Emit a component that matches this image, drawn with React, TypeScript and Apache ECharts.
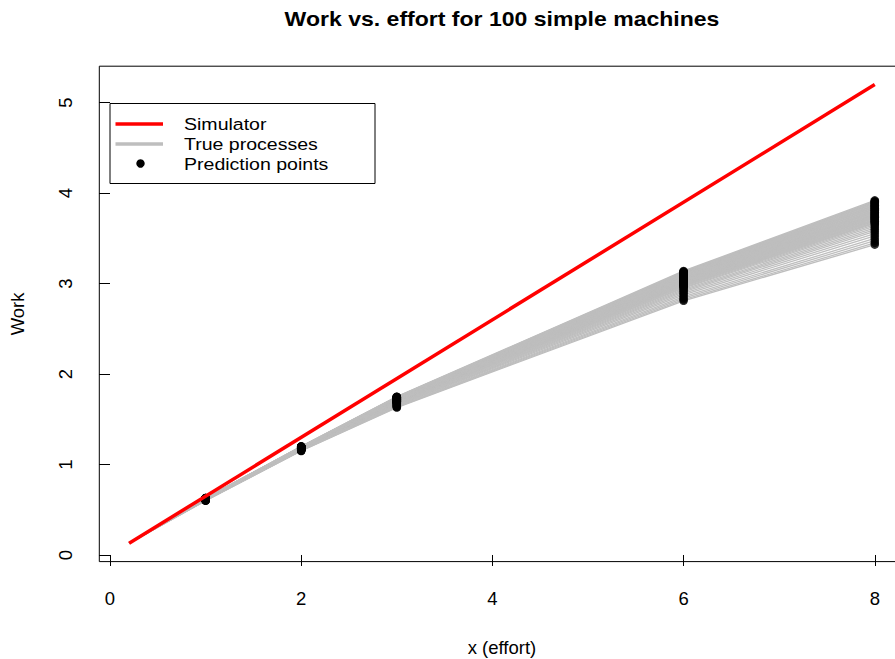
import React, { useEffect, useRef } from "react";
import * as echarts from "echarts";

// ---- data ----
const simulatorX = [0.2, 8];
const simulatorY = [0.13, 5.2];

const trueStart = [0.2, 0.13];
const processX = [1, 2, 3, 6, 8];

const trueAt1 = [
  0.600, 0.601, 0.603, 0.604, 0.606, 0.608, 0.609, 0.610, 0.611, 0.613,
  0.614, 0.614, 0.615, 0.615, 0.616, 0.616, 0.617, 0.617, 0.617, 0.618,
  0.618, 0.619, 0.619, 0.620, 0.620, 0.620, 0.621, 0.621, 0.622, 0.622,
  0.622, 0.623, 0.623, 0.623, 0.624, 0.624, 0.625, 0.625, 0.626, 0.626,
  0.626, 0.627, 0.627, 0.628, 0.628, 0.628, 0.629, 0.629, 0.629, 0.630,
];
const trueAt2 = [
  1.150, 1.152, 1.155, 1.157, 1.160, 1.163, 1.165, 1.167, 1.169, 1.171,
  1.173, 1.174, 1.175, 1.176, 1.177, 1.177, 1.178, 1.179, 1.179, 1.180,
  1.181, 1.181, 1.182, 1.183, 1.183, 1.184, 1.185, 1.185, 1.186, 1.187,
  1.187, 1.188, 1.189, 1.189, 1.190, 1.191, 1.191, 1.192, 1.193, 1.193,
  1.194, 1.195, 1.195, 1.196, 1.197, 1.197, 1.198, 1.199, 1.199, 1.200,
];
const trueAt3 = [
  1.630, 1.635, 1.641, 1.647, 1.654, 1.660, 1.666, 1.671, 1.676, 1.680,
  1.684, 1.688, 1.690, 1.691, 1.694, 1.695, 1.697, 1.698, 1.700, 1.702,
  1.703, 1.704, 1.707, 1.708, 1.709, 1.712, 1.713, 1.714, 1.716, 1.718,
  1.719, 1.721, 1.722, 1.724, 1.726, 1.727, 1.728, 1.731, 1.732, 1.733,
  1.736, 1.737, 1.738, 1.740, 1.742, 1.743, 1.745, 1.746, 1.748, 1.750,
];
const trueAt6 = [
  2.810, 2.823, 2.840, 2.856, 2.876, 2.893, 2.909, 2.922, 2.935, 2.949,
  2.959, 2.968, 2.975, 2.978, 2.985, 2.988, 2.995, 2.998, 3.001, 3.008,
  3.011, 3.015, 3.021, 3.025, 3.028, 3.034, 3.038, 3.041, 3.048, 3.051,
  3.054, 3.061, 3.064, 3.067, 3.074, 3.077, 3.081, 3.087, 3.091, 3.094,
  3.100, 3.104, 3.107, 3.114, 3.117, 3.120, 3.127, 3.130, 3.133, 3.140,
];
const trueAt8 = [
  3.430, 3.450, 3.474, 3.499, 3.528, 3.553, 3.577, 3.597, 3.616, 3.636,
  3.651, 3.665, 3.675, 3.680, 3.690, 3.695, 3.704, 3.709, 3.714, 3.724,
  3.729, 3.734, 3.744, 3.749, 3.753, 3.763, 3.768, 3.773, 3.783, 3.788,
  3.793, 3.802, 3.807, 3.812, 3.822, 3.827, 3.832, 3.842, 3.847, 3.851,
  3.861, 3.866, 3.871, 3.881, 3.886, 3.891, 3.900, 3.905, 3.910, 3.920,
];

const xTicks = [0, 2, 4, 6, 8];
const yTicks = [0, 1, 2, 3, 4, 5];
const xRange = [-0.112, 8.312];
const yRange = [-0.073, 5.403];

const titleText = "Work vs. effort for 100 simple machines";
const xName = "x (effort)";
const yName = "Work";
const legendLabels = ["Simulator", "True processes", "Prediction points"];

const FONT = '"Liberation Sans", Arial, Helvetica, sans-serif';

export default function App() {
  const ref = useRef<HTMLDivElement>(null);

  useEffect(() => {
    if (!ref.current) return;
    const chart = echarts.init(ref.current, null, { renderer: "svg" });

    const columns = [trueAt1, trueAt2, trueAt3, trueAt6, trueAt8];
    const nLines = trueAt8.length;
    const grayLines: any[] = [];
    for (let i = 0; i < nLines; i++) {
      const data: number[][] = [[trueStart[0], trueStart[1]]];
      processX.forEach((x, j) => data.push([x, columns[j][i]]));
      grayLines.push({
        type: "line",
        data,
        symbol: "none",
        showSymbol: false,
        silent: true,
        lineStyle: { color: "#BEBEBE", width: 1.3 },
        z: 2,
      });
    }

    const pointData: number[][] = [];
    processX.forEach((x, j) => columns[j].forEach((v) => pointData.push([x, v])));

    const legendX = 110;
    const legendY = 103.5;

    chart.setOption({
      animation: false,
      backgroundColor: "#ffffff",
      grid: {
        left: 99.3,
        top: 66.2,
        width: 805.3,
        height: 495.4,
        show: true,
        borderColor: "#000",
        borderWidth: 1,
        backgroundColor: "transparent",
        containLabel: false,
        outerBoundsMode: "none",
      },
      xAxis: {
        type: "value",
        min: xRange[0],
        max: xRange[1],
        name: xName,
        nameLocation: "middle",
        nameGap: 76,
        nameTextStyle: { color: "#000", fontSize: 18.5, fontFamily: FONT },
        axisLine: { show: false },
        splitLine: { show: false },
        axisTick: {
          show: true,
          inside: false,
          length: 11,
          lineStyle: { color: "#000", width: 1 },
          customValues: xTicks,
        },
        axisLabel: {
          customValues: xTicks,
          margin: 27,
          color: "#000",
          fontSize: 18.5,
          fontFamily: FONT,
        },
      },
      yAxis: {
        type: "value",
        min: yRange[0],
        max: yRange[1],
        name: yName,
        nameLocation: "middle",
        nameRotate: 90,
        nameGap: 72,
        nameTextStyle: { color: "#000", fontSize: 18.5, fontFamily: FONT },
        axisLine: { show: false },
        splitLine: { show: false },
        axisTick: {
          show: true,
          inside: false,
          length: 11,
          lineStyle: { color: "#000", width: 1 },
          customValues: yTicks,
        },
        axisLabel: {
          customValues: yTicks,
          rotate: 90,
          margin: 24,
          color: "#000",
          fontSize: 18.5,
          fontFamily: FONT,
        },
      },
      series: [
        ...grayLines,
        {
          type: "scatter",
          name: "Prediction points",
          data: pointData,
          symbol: "circle",
          symbolSize: 8.5,
          itemStyle: { color: "#000" },
          silent: true,
          z: 3,
        },
        {
          type: "line",
          name: "Simulator",
          data: simulatorX.map((x, i) => [x, simulatorY[i]]),
          symbol: "none",
          showSymbol: false,
          silent: true,
          lineStyle: { color: "#FF0000", width: 3.5 },
          z: 4,
        },
      ],
      graphic: [
        {
          type: "text",
          x: 502,
          y: 19,
          scaleX: 1.13,
          style: {
            text: titleText,
            fill: "#000",
            fontSize: 20.4,
            fontWeight: "bold",
            fontFamily: FONT,
            align: "center",
            verticalAlign: "middle",
          },
        },
        {
          type: "rect",
          shape: { x: legendX, y: legendY, width: 265, height: 80 },
          style: { fill: "#fff", stroke: "#000", lineWidth: 1 },
          z: 10,
        },
        {
          type: "line",
          shape: { x1: 115.5, y1: 124, x2: 163, y2: 124 },
          style: { stroke: "#FF0000", lineWidth: 3.5 },
          z: 11,
        },
        {
          type: "line",
          shape: { x1: 115.5, y1: 144, x2: 163, y2: 144 },
          style: { stroke: "#BEBEBE", lineWidth: 3.5 },
          z: 11,
        },
        {
          type: "circle",
          shape: { cx: 140.5, cy: 163.5, r: 4.2 },
          style: { fill: "#000" },
          z: 11,
        },
        ...legendLabels.map((t, i) => ({
          type: "text",
          x: 184,
          y: 124 + i * 20,
          scaleX: 1.15,
          z: 11,
          style: {
            text: t,
            fill: "#000",
            fontSize: 17,
            fontFamily: FONT,
            align: "left",
            verticalAlign: "middle",
          },
        })),
      ],
    });

    return () => chart.dispose();
  }, []);

  return (
    <div
      style={{
        position: "absolute",
        left: 0,
        top: 0,
        width: 895,
        height: 659,
        overflow: "hidden",
        background: "#fff",
      }}
    >
      <div ref={ref} style={{ width: 1004, height: 659 }} />
    </div>
  );
}
